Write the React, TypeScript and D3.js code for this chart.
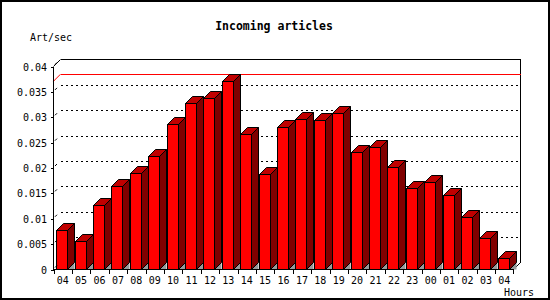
import React from 'react';
import * as d3 from 'd3';

const hours = ['04', '05', '06', '07', '08', '09', '10', '11', '12', '13', '14', '15', '16',
  '17', '18', '19', '20', '21', '22', '23', '00', '01', '02', '03', '04'];
const articlesPerSec = [0.0078, 0.0056, 0.0127, 0.0164, 0.0191, 0.0224, 0.0286, 0.0328, 0.0338,
  0.0371, 0.0267, 0.0188, 0.0280, 0.0296, 0.0294, 0.0308, 0.0231, 0.0241, 0.0201, 0.0160,
  0.0172, 0.0146, 0.0103, 0.0063, 0.0022];
const yTicks = [0, 0.005, 0.01, 0.015, 0.02, 0.025, 0.03, 0.035, 0.04];
const yTickLabels = ['0', '0.005', '0.01', '0.015', '0.02', '0.025', '0.03', '0.035', '0.04'];

const width = 550;
const height = 300;
const dx = 7; // 3D depth
const dy = 7;
const mono = '"DejaVu Sans Mono", monospace';

const App: React.FC = () => {
  const x = d3.scaleBand<number>()
    .domain(hours.map((_, i) => i))
    .range([53.5, 513.5])
    .padding(0);
  const y = d3.scaleLinear().domain([0, 0.04]).range([269.5, 66.5]);

  const bw = Math.round(x.bandwidth() * 0.6);
  const left = 53.5;
  const right = 513.5;
  const y0 = y(0);
  const yTop = y(0.04);
  const maxVal = d3.max(articlesPerSec) ?? 0;

  return (
    <svg width={width} height={height} style={{ position: 'absolute', left: 0, top: 0 }}>
      <rect x={0} y={0} width={width} height={height} fill="#fff" />
      <rect x={1} y={1} width={width - 2} height={height - 2} fill="none" stroke="#000" strokeWidth={2} />

      <text x={274} y={30} textAnchor="middle" fontFamily={mono} fontWeight="bold" fontSize={11.5}>
        Incoming articles
      </text>
      <text x={30} y={41} fontFamily={mono} fontSize={10}>Art/sec</text>
      <text x={504} y={296} fontFamily={mono} fontSize={10}>Hours</text>

      {/* back plane */}
      <g shapeRendering="crispEdges">
        {yTicks.slice(1, -1).map((t) => (
          <line key={t} x1={left + dx} x2={right + dx} y1={Math.round(y(t) - dy) + 0.5} y2={Math.round(y(t) - dy) + 0.5}
            stroke="#000" strokeDasharray="2,3" />
        ))}
        <line x1={left + dx} x2={right + dx} y1={yTop - dy} y2={yTop - dy} stroke="#000" />
        <line x1={right + dx} x2={right + dx} y1={yTop - dy} y2={y0 - dy} stroke="#000" />
        <line x1={left + dx} x2={right + dx} y1={Math.round(y(maxVal) - dy) + 0.5} y2={Math.round(y(maxVal) - dy) + 0.5}
          stroke="#ff0000" />
      </g>
      <line x1={left} y1={y(maxVal)} x2={left + dx} y2={y(maxVal) - dy} stroke="#ff0000" />
      <line x1={left} y1={yTop} x2={left + dx} y2={yTop - dy} stroke="#000" />
      <line x1={right} y1={y0} x2={right + dx} y2={y0 - dy} stroke="#000" />

      {/* bars */}
      <g strokeWidth={1} stroke="#000" strokeLinejoin="miter">
        {articlesPerSec.map((v, i) => {
          const bx = Math.round((x(i) ?? 0) + (x.bandwidth() - bw) / 2) - 0.5;
          const by = Math.round(y(v)) + 0.5;
          const bb = y0;
          const rx = bx + bw;
          return (
            <g key={i}>
              <polygon points={`${rx},${bb} ${rx + dx},${bb - dy} ${rx + dx},${bb}`} fill="#999" stroke="none" />
              <polygon points={`${rx},${by} ${rx + dx},${by - dy} ${rx + dx},${bb - dy} ${rx},${bb}`} fill="#800000" />
              <polygon points={`${bx},${by} ${bx + dx},${by - dy} ${rx + dx},${by - dy} ${rx},${by}`} fill="#c00000" />
              <rect x={bx} y={by} width={bw} height={bb - by} fill="#ff0000" shapeRendering="crispEdges" />
            </g>
          );
        })}
      </g>

      {/* axes */}
      <g shapeRendering="crispEdges" stroke="#000">
        <line x1={left} x2={left} y1={yTop} y2={y0} />
        <line x1={left} x2={right} y1={y0} y2={y0} />
        {yTicks.map((t) => (
          <line key={t} x1={left - 3} x2={left} y1={Math.round(y(t)) + 0.5} y2={Math.round(y(t)) + 0.5} />
        ))}
        {hours.map((_, i) => (
          <line key={i} x1={Math.round(x(i) ?? 0) + 0.5} x2={Math.round(x(i) ?? 0) + 0.5} y1={y0} y2={y0 + 4} />
        ))}
        <line x1={right} x2={right} y1={y0} y2={y0 + 4} />
      </g>
      {yTicks.map((t) => (
        <line key={t} x1={left + 1.5} y1={y(t) - 2} x2={left + 3.5} y2={y(t) - 4} stroke="#000" />
      ))}
      {yTicks.map((t, i) => (
        <text key={t} x={47} y={y(t) + 4} textAnchor="end" fontFamily={mono} fontSize={10}>{yTickLabels[i]}</text>
      ))}
      {hours.map((h, i) => (
        <text key={i} x={(x(i) ?? 0) + x.bandwidth() / 2} y={283.5} textAnchor="middle" fontFamily={mono} fontSize={10}>
          {h}
        </text>
      ))}
    </svg>
  );
};

export default App;
